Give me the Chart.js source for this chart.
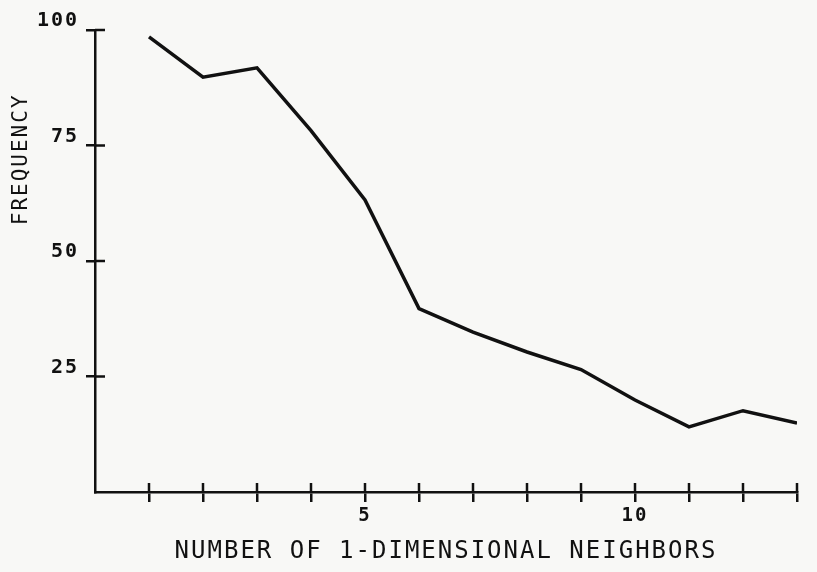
<!DOCTYPE html>
<html>
<head>
<meta charset="utf-8">
<script src="https://cdn.jsdelivr.net/npm/chart.js@4"></script>
<style>
    html, body { margin: 0; padding: 0; background: #f8f8f6; }
    #wrap { width: 817px; height: 572px; }
</style>
</head>
<body>
<div id="wrap"><canvas id="neighborChart"></canvas></div>
<script>
// number of 1-dimensional neighbors vs frequency
const neighbors = [1, 2, 3, 4, 5, 6, 7, 8, 9, 10, 11, 12, 13];
const frequency = [98.5, 89.8, 91.8, 78.2, 63.2, 39.7, 34.6, 30.3, 26.5, 19.9, 14.1, 17.6, 14.9];
const xLabelled = [5, 10];
const yLabelled = [25, 50, 75, 100];
const yTitle = 'FREQUENCY';

const INK = '#111';
const FONT = '"DejaVu Sans Mono", "Liberation Mono", monospace';

// no tick at the origin corner
const tickColor = ctx => (ctx.tick && ctx.tick.value === 0) ? 'rgba(0,0,0,0)' : INK;

// plotter-style tick marks that cross the axis line, plus the y title
// sitting up towards the top of the axis
const crossTicks = {
    id: 'crossTicks',
    beforeDraw(chart) {
        chart.ctx.letterSpacing = '2px';
    },
    afterDraw(chart) {
        const ctx = chart.ctx;
        const xs = chart.scales.x;
        const ys = chart.scales.y;
        const area = chart.chartArea;
        ctx.save();
        ctx.strokeStyle = INK;
        ctx.lineWidth = 2.5;
        ctx.beginPath();
        xs.ticks.forEach(t => {
            if (t.value === 0) return;
            const px = xs.getPixelForValue(t.value);
            ctx.moveTo(px, area.bottom);
            ctx.lineTo(px, area.bottom - 9);
        });
        ys.ticks.forEach(t => {
            if (t.value === 0) return;
            const py = ys.getPixelForValue(t.value);
            ctx.moveTo(area.left, py);
            ctx.lineTo(area.left + 10, py);
        });
        ctx.stroke();

        ctx.translate(22, ys.getPixelForValue(72));
        ctx.rotate(-Math.PI / 2);
        ctx.fillStyle = INK;
        ctx.font = '21px ' + FONT;
        ctx.textAlign = 'center';
        ctx.textBaseline = 'middle';
        ctx.fillText(yTitle, 0, 0);
        ctx.restore();
    }
};

new Chart(document.getElementById('neighborChart'), {
    type: 'line',
    data: {
        datasets: [{
            data: neighbors.map((n, i) => ({ x: n, y: frequency[i] })),
            borderColor: INK,
            borderWidth: 3.5,
            pointRadius: 0,
            tension: 0,
            fill: false
        }]
    },
    options: {
        responsive: true,
        maintainAspectRatio: false,
        animation: false,
        layout: { padding: { left: 0, right: 20, top: 30, bottom: 0 } },
        plugins: { legend: { display: false }, tooltip: { enabled: false } },
        scales: {
            x: {
                type: 'linear',
                min: 0,
                max: 13,
                afterFit: scale => { scale.height = 80; },
                border: { color: INK, width: 2.5 },
                grid: { drawOnChartArea: false, drawTicks: true, tickLength: 10, color: tickColor, lineWidth: 2.5 },
                ticks: {
                    stepSize: 1,
                    autoSkip: false,
                    maxRotation: 0,
                    padding: 3,
                    color: INK,
                    font: { family: FONT, size: 19, weight: 'bold' },
                    callback: v => xLabelled.includes(v) ? String(v) : ''
                },
                title: {
                    display: true,
                    text: 'NUMBER OF 1-DIMENSIONAL NEIGHBORS',
                    color: INK,
                    font: { family: FONT, size: 24 },
                    padding: { top: 0, bottom: 6 }
                }
            },
            y: {
                min: 0,
                max: 100,
                afterFit: scale => { scale.width = 95; },
                border: { color: INK, width: 2.5 },
                grid: { drawOnChartArea: false, drawTicks: true, tickLength: 9, color: tickColor, lineWidth: 2.5 },
                ticks: {
                    stepSize: 25,
                    padding: 7,
                    labelOffset: -9,
                    color: INK,
                    font: { family: FONT, size: 20, weight: 'bold' },
                    callback: v => yLabelled.includes(v) ? String(v) : ''
                },
                title: { display: false }
            }
        }
    },
    plugins: [crossTicks]
});
</script>
</body>
</html>
